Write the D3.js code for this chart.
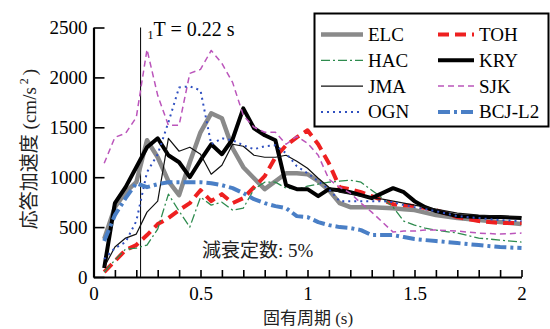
<!DOCTYPE html>
<html>
<head>
<meta charset="utf-8">
<script src="https://cdn.jsdelivr.net/npm/d3@7"></script>
<style>
body { margin: 0; background: #fff; }
</style>
</head>
<body>
<div id="chart"></div>
<script>
// periods (s) shared by every spectrum
var periods = [0.05, 0.1, 0.15, 0.2, 0.25, 0.3, 0.35, 0.4, 0.45, 0.5,
    0.55, 0.6, 0.65, 0.7, 0.75, 0.8, 0.85, 0.9, 0.95, 1.0,
    1.05, 1.1, 1.15, 1.2, 1.25, 1.3, 1.35, 1.4, 1.45, 1.5,
    1.55, 1.6, 1.7, 1.8, 1.9, 2.0];

// response acceleration (cm/s2)
var ELC = [380, 700, 850, 950, 1370, 1200, 960, 820, 1150, 1450,
    1640, 1590, 1290, 1100, 990, 880, 960, 1040, 1040, 1030,
    960, 870, 740, 700, 700, 700, 695, 690, 680, 670,
    645, 620, 590, 570, 550, 530];
var TOH = [50, 160, 270, 320, 420, 530, 590, 670, 740, 870,
    760, 830, 740, 790, 900, 1010, 1200, 1320, 1400, 1470,
    1330, 1140, 900, 880, 850, 810, 770, 730, 720, 710,
    690, 670, 600, 560, 540, 540];
var HAC = [50, 170, 280, 290, 320, 480, 830, 660, 500, 800,
    720, 750, 670, 690, 880, 950, 950, 890, 880, 910,
    930, 950, 960, 970, 950, 870, 790, 700, 560, 520,
    490, 470, 440, 390, 370, 350];
var KRY = [90, 740, 900, 1100, 1300, 1390, 1220, 1150, 1000, 1170,
    1330, 1230, 1380, 1690, 1490, 1420, 1370, 920, 880, 880,
    810, 880, 870, 850, 820, 790, 840, 890, 850, 760,
    700, 660, 610, 600, 600, 590];
var JMA = [100, 300, 390, 430, 650, 760, 1390, 1260, 1300, 1230,
    1030, 1120, 1330, 1310, 1220, 1200, 1200, 1220, 1160, 1090,
    990, 900, 850, 830, 810, 790, 780, 760, 740, 720,
    700, 680, 640, 620, 610, 600];
var SJK = [1140, 1400, 1440, 1600, 2280, 1820, 1520, 1520, 2040, 2080,
    2270, 2140, 1950, 1620, 1500, 1450, 1450, 1330, 1410, 1340,
    1220, 980, 900, 840, 740, 650, 550, 450, 460, 460,
    470, 470, 460, 440, 430, 440];
var OGN = [180, 290, 350, 560, 1050, 1230, 1550, 1900, 1910, 1870,
    1330, 1390, 1370, 1320, 1280, 1310, 1320, 1240, 1110, 1040,
    960, 880, 760, 760, 760, 760, 760, 750, 720, 700,
    680, 660, 610, 590, 570, 560];
var BCJ = [360, 620, 790, 940, 900, 930, 950, 950, 950, 950,
    940, 920, 890, 840, 780, 740, 710, 690, 610, 600,
    550, 520, 500, 490, 470, 420, 420, 420, 400, 380,
    370, 360, 340, 320, 300, 290];

var seriesNames = ["ELC", "TOH", "HAC", "KRY", "JMA", "SJK", "OGN", "BCJ-L2"];
var seriesValues = [ELC, TOH, HAC, KRY, JMA, SJK, OGN, BCJ];

var xTicks = [0, 0.1, 0.2, 0.3, 0.4, 0.5, 0.6, 0.7, 0.8, 0.9, 1,
    1.1, 1.2, 1.3, 1.4, 1.5, 1.6, 1.7, 1.8, 1.9, 2];
var xLabels = {0: "0", 0.5: "0.5", 1: "1", 1.5: "1.5", 2: "2"};
var yTicks = [0, 500, 1000, 1500, 2000, 2500];
var firstPeriod = 0.22;

var SERIF = "Liberation Serif, Times New Roman, serif";
var CJK = "Noto Sans CJK JP, sans-serif";

// line styles, same order as seriesNames
var styles = [
    {color: "#8a8a8a", width: 4.5, dash: null},
    {color: "#ee2020", width: 4, dash: "11,6"},
    {color: "#2e8b4e", width: 1.3, dash: "9,3,2,3"},
    {color: "#000000", width: 4, dash: null},
    {color: "#111111", width: 1.2, dash: null},
    {color: "#bb55bb", width: 1.5, dash: "6,4"},
    {color: "#3050c0", width: 2, dash: "2,4"},
    {color: "#4a7fc6", width: 4, dash: "12,4,3,4"}
];

var width = 550, height = 329;

var svg = d3.select("#chart")
    .append("svg")
    .attr("width", width)
    .attr("height", height);

var x = d3.scaleLinear().domain([0, 2]).range([93.5, 521.5]);
var y = d3.scaleLinear().domain([0, 2500]).range([277, 27.5]);

// x axis, ticks pointing into the plot
var xAxis = svg.append("g")
    .attr("transform", "translate(0,277)")
    .call(d3.axisBottom(x)
        .tickValues(xTicks)
        .tickSizeInner(-7)
        .tickSizeOuter(0)
        .tickPadding(10)
        .tickFormat(function (d) {
            return xLabels[d] !== undefined ? xLabels[d] : "";
        }));

// y axis
var yAxis = svg.append("g")
    .attr("transform", "translate(93.5,0)")
    .call(d3.axisLeft(y)
        .tickValues(yTicks)
        .tickSizeInner(-11)
        .tickSizeOuter(0)
        .tickPadding(6)
        .tickFormat(d3.format("d")));

[xAxis, yAxis].forEach(function (g) {
    g.attr("font-family", null).attr("font-size", null);
    g.select(".domain").attr("stroke", "#000").attr("stroke-width", 2.2);
    g.selectAll(".tick line").attr("stroke", "#000").attr("stroke-width", 1.6);
    g.selectAll(".tick text")
        .attr("fill", "#000")
        .style("font-family", SERIF)
        .style("font-size", "19px");
});

// first natural period marker
svg.append("line")
    .attr("x1", x(firstPeriod))
    .attr("x2", x(firstPeriod))
    .attr("y1", y(2500))
    .attr("y2", y(0))
    .attr("stroke", "#000")
    .attr("stroke-width", 1);

var tLabel = svg.append("text")
    .attr("x", x(firstPeriod) + 7)
    .attr("y", 36)
    .style("font-family", SERIF)
    .style("font-size", "20px");
tLabel.append("tspan").text("1").style("font-size", "12px").attr("dy", 3);
tLabel.append("tspan").text("T = 0.22 s").attr("dy", -3);

// spectra
var line = d3.line()
    .x(function (d) { return x(d[0]); })
    .y(function (d) { return y(d[1]); });

seriesValues.forEach(function (vals, i) {
    var pts = periods.map(function (p, j) { return [p, vals[j]]; });
    svg.append("path")
        .datum(pts)
        .attr("d", line)
        .attr("fill", "none")
        .attr("stroke", styles[i].color)
        .attr("stroke-width", styles[i].width)
        .attr("stroke-dasharray", styles[i].dash)
        .attr("stroke-linejoin", "round");
});

// damping note
var note = svg.append("text")
    .attr("x", 202)
    .attr("y", 257)
    .style("font-size", "19px")
    .attr("fill", "#222");
note.append("tspan").style("font-family", CJK).text("減衰定数");
note.append("tspan").style("font-family", SERIF).text(": 5%");

// axis titles
var xTitle = svg.append("text")
    .attr("x", 308)
    .attr("y", 323.5)
    .attr("text-anchor", "middle")
    .style("font-size", "17px")
    .attr("fill", "#222");
xTitle.append("tspan").style("font-family", CJK).text("固有周期");
xTitle.append("tspan").style("font-family", SERIF).text(" (s)");

var yTitle = svg.append("text")
    .attr("transform", "translate(36,149) rotate(-90)")
    .attr("text-anchor", "middle")
    .style("font-size", "19px")
    .attr("fill", "#222");
yTitle.append("tspan").style("font-family", CJK).text("応答加速度");
yTitle.append("tspan").style("font-family", SERIF).text(" (cm/s");
yTitle.append("tspan").style("font-family", SERIF).text("2")
    .style("font-size", "12px").attr("dy", -8).attr("dx", 3);
yTitle.append("tspan").style("font-family", SERIF).text(")").attr("dy", 8).attr("dx", 3);

// legend
var legend = svg.append("g");
legend.append("rect")
    .attr("x", 314.5)
    .attr("y", 13.5)
    .attr("width", 234)
    .attr("height", 113)
    .attr("fill", "#fff")
    .attr("stroke", "#000")
    .attr("stroke-width", 2);

seriesNames.forEach(function (name, i) {
    var col = i % 2, row = Math.floor(i / 2);
    var lx = col === 0 ? 321 : 438;
    var len = col === 0 ? 42 : 36;
    var ly = 34.5 + row * 25.8;
    legend.append("line")
        .attr("x1", lx)
        .attr("x2", lx + len)
        .attr("y1", ly)
        .attr("y2", ly)
        .attr("stroke", styles[i].color)
        .attr("stroke-width", styles[i].width)
        .attr("stroke-dasharray", styles[i].dash);
    legend.append("text")
        .attr("x", lx + len + 5)
        .attr("y", ly + 6.5)
        .style("font-family", SERIF)
        .style("font-size", "19px")
        .text(name);
});
</script>
</body>
</html>
